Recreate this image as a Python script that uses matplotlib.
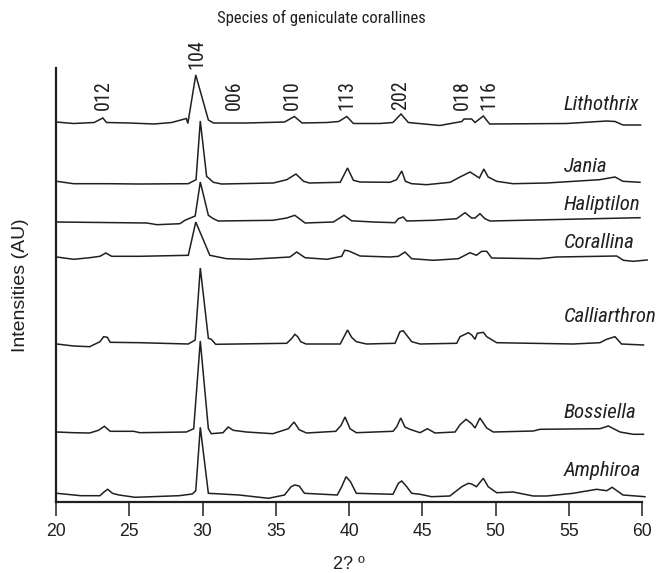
import matplotlib
matplotlib.use("Agg")
import matplotlib.pyplot as plt

# ---- data: 2-theta positions and intensities (AU, relative to each trace baseline)
litho_x = [20.0, 21.2, 22.6, 23.2, 23.45, 25.0, 26.7, 27.9, 28.9, 29.0, 29.54, 30.4, 30.75, 33.0, 35.6, 36.27, 36.8,
           38.5, 39.3, 39.85, 40.3, 42.1, 43.0, 43.55, 44.05, 46.2, 47.7, 47.85, 48.37, 48.6, 49.17, 49.6, 54.86,
           57.6, 58.16, 58.7, 59.9]
litho_y = [1, -0.5, 0.5, 5, 0.5, 0, -1, 0.5, 4.5, -0.5, 48, 3, 0, 0, 1, 6.5, 0,
           0.5, 1.5, 6.5, -0.5, -0.5, 0.5, 9, 0.5, -2.5, 1.5, 4, 4, 0.5, 7, -1, -0.5,
           2, 1.5, -2, -2]

jania_x = [20.05, 21.2, 23.5, 25.7, 29.03, 29.56, 29.85, 30.28, 30.74, 31.3, 34.83, 35.75, 36.38, 36.9, 37.3, 39.4,
           39.9, 40.3, 40.75, 42.8, 43.25, 43.6, 43.85, 44.28, 45.3, 46.9, 47.58, 48.26, 48.9, 49.2, 49.5, 50.08,
           51.2, 53.5, 57.1, 58.16, 58.7, 59.86]
jania_y = [1.7, -0.7, -0.7, -1, -0.7, 3.3, 62, 6.7, 0.7, -1, 0, 3.3, 9, 1.7, 0, 0.7,
           15, 2.7, 1, 0.7, 3.3, 12, 1.7, -0.7, -1.7, 0.7, 6, 11, 5, 14, 6, 1.7,
           -0.7, 0, 3.3, 6, 1.7, 0.7]

halip_x = [20.05, 26.2, 26.9, 28.46, 28.8, 29.5, 29.85, 30.4, 30.74, 31.08, 34.8, 35.75, 36.3, 37.0, 38.93, 39.66,
           40.18, 41.66, 43.14, 43.37, 43.7, 43.94, 45.75, 47.35, 47.92, 48.37, 48.6, 48.94, 49.28, 49.62, 59.86]
halip_y = [0, -1, -2.7, -1.7, 1.7, 6, 40, 6.7, 3.3, 1, 1.7, 4, 6.7, -1, 0, 6.7,
           1.2, 0, -0.7, 3.3, 5, 1, 1.7, 3.3, 9.3, 4, 4, 8.3, 3.3, 1, 4.3]

coral_x = [20.05, 21.2, 22.3, 23.0, 23.4, 23.8, 25.73, 29.03, 29.54, 30.5, 31.64, 33.24, 35.97, 36.43, 37.0, 38.5,
           39.5, 39.7, 39.95, 40.3, 40.75, 42.8, 43.37, 43.82, 44.28, 45.75, 47.46, 48.26, 48.7, 49.06, 49.4,
           49.74, 53.0, 54.17, 58.27, 58.73, 59.4, 60.35]
coral_y = [0, -2.3, -0.7, 0.7, 4, 0.7, 0.7, 1.7, 35, 1.7, -1.7, -2.3, 0, 5, -0.7, -2.3,
           0.7, 6.7, 6.2, 4, 1, 0, 0.7, 5, -1.7, -3.3, -1.7, 4.3, 1.7, 5.7, 5.7,
           -1, -1.7, 0, 1, -3.3, -4.3, -3]

calli_x = [20.05, 21.2, 22.3, 23.0, 23.25, 23.5, 23.7, 25.73, 29.03, 29.5, 29.85, 30.4, 30.6, 30.9, 35.75, 36.1,
           36.3, 36.5, 36.7, 37.07, 39.4, 39.66, 39.9, 40.18, 40.5, 41.2, 43.14, 43.48, 43.7, 44.28, 44.85,
           47.35, 47.58, 48.15, 48.38, 48.6, 48.76, 49.17, 49.4, 50.08, 55.3, 57.13, 57.58, 58.16, 58.6, 60.1]
calli_y = [0, -2, -2.7, 2.3, 7.3, 6.7, 1.7, 1.3, 0, 4, 76, 5.7, 4.7, -0.3, 0.7, 5.7,
           9.7, 7.3, 2.3, 0, 0, 7.3, 14, 6.7, 2.3, 0, 0.7, 12.3, 13.3, 2.3, 0,
           0.7, 7.3, 11.3, 9, 4.7, 10.7, 11.7, 7.3, 1.3, 0, 1.3, 4.7, 7.3, 0, -1]

bossi_x = [20.05, 21.2, 22.3, 22.9, 23.3, 23.7, 25.3, 25.73, 28.9, 29.4, 29.85, 30.4, 30.6, 31.4, 31.75, 32.1,
           33.0, 34.8, 35.86, 36.25, 36.6, 37.1, 39.1, 39.46, 39.73, 40.07, 40.5, 43.0, 43.25, 43.53, 43.82,
           44.16, 44.85, 45.35, 45.87, 47.24, 47.58, 47.99, 48.37, 48.6, 48.94, 49.4, 49.85, 52.58, 53.04,
           57.13, 57.7, 58.5, 59.4, 60.1]
bossi_y = [0, -0.7, -1, 1.7, 5.7, 0.7, 0.7, -0.7, 0, 3.3, 91, 3.3, -1.7, -0.7, 5, 1.7,
           0, -1.7, 3.3, 10, 2.3, -1, 0.7, 6.7, 15, 3.3, -0.7, 0.7, 5, 14, 5,
           2.7, -0.7, 3.3, -1, 0, 7.3, 12.7, 8.3, 4, 14, 4, 0, 1, 2.7,
           3.3, 6, 0, -2.3, -2.3]

amphi_x = [20.05, 21.7, 23.0, 23.3, 23.53, 23.85, 24.3, 25.4, 28.4, 29.3, 29.54, 29.85, 30.4, 32.5, 34.5, 35.6,
           36.05, 36.3, 36.6, 36.96, 39.2, 39.5, 39.8, 40.1, 40.5, 43.0, 43.37, 43.6, 43.94, 44.28, 44.85,
           45.64, 46.88, 47.7, 48.15, 48.37, 48.7, 49.17, 49.5, 50.08, 51.2, 52.58, 53.5, 55.3, 56.9, 57.6,
           57.96, 58.7, 60.2]
amphi_y = [1.7, -0.7, -0.7, 3.3, 5.7, 1.7, 0, -2.3, -0.7, 1, 4.3, 67.7, 1.7, 0, -3.3, 0,
           8.3, 10, 9, 1.7, 0, 8.3, 18.3, 13.3, 1.7, 0.7, 11.7, 14, 8.3, 1.7, 0.7,
           -1.7, -1, 8.3, 11.7, 11, 8.3, 16.7, 8.3, 2.3, 3, -1, -1, 1.7, 5.7, 4.3,
           7.7, 0, -1.7]

species = ["Lithothrix", "Jania", "Haliptilon", "Corallina", "Calliarthron", "Bossiella", "Amphiroa"]
baselines = [379, 319, 280, 245, 158, 70, 7]
label_heights = [397, 336, 297, 259, 185, 89, 31]

peak_labels = ["012", "104", "006", "010", "113", "202", "018", "116"]
peak_pos = [23.25, 29.6, 32.2, 36.14, 39.84, 43.5, 47.75, 49.56]
peak_label_y = [407, 448, 407, 407, 407, 407, 407, 407]

xticks = [20, 25, 30, 35, 40, 45, 50, 55, 60]

traces_x = [litho_x, jania_x, halip_x, coral_x, calli_x, bossi_x, amphi_x]
traces_y = [litho_y, jania_y, halip_y, coral_y, calli_y, bossi_y, amphi_y]

# ---- figure
W, H = 658, 573
fig = plt.figure(figsize=(W / 100, H / 100), dpi=100)
ax = fig.add_axes([56 / W, 71 / H, 586 / W, 434 / H])
ink = "#231f20"
narrow = ["Roboto Condensed", "Archivo Narrow", "Liberation Sans", "DejaVu Sans"]
reg = ["Liberation Sans", "DejaVu Sans"]

for xs, ys, b in zip(traces_x, traces_y, baselines):
    ax.plot(xs, [v + b for v in ys], color=ink, lw=1.1, clip_on=False, solid_joinstyle="miter")

for name, h in zip(species, label_heights):
    ax.text(54.65, h, name, family=narrow, style="italic", fontsize=15, color=ink,
            ha="left", va="center")

for lab, p, yy in zip(peak_labels, peak_pos, peak_label_y):
    ax.text(p, yy, lab, family=narrow, fontsize=14.5, color=ink, rotation=90,
            ha="center", va="center", clip_on=False)

ax.set_xlim(20, 60)
ax.set_ylim(0, 434)
ax.set_xticks(xticks)
ax.set_xticklabels([str(t) for t in xticks], family=reg, fontsize=12.7, color=ink)
ax.set_yticks([])
ax.spines["top"].set_visible(False)
ax.spines["right"].set_visible(False)
ax.spines["left"].set_linewidth(1.6)
ax.spines["bottom"].set_linewidth(1.6)
ax.spines["left"].set_color(ink)
ax.spines["bottom"].set_color(ink)
ax.tick_params(axis="x", direction="out", length=10, width=1.1, pad=5, colors=ink)

ax.set_xlabel("2? º", family=reg, fontsize=13, color=ink)
ax.xaxis.set_label_coords(0.5, -0.145)
ax.xaxis.label.set_va("center")
ax.set_ylabel("Intensities (AU)", family=reg, fontsize=14, color=ink)
ax.yaxis.set_label_coords(-0.061, 0.5)
ax.yaxis.label.set_va("center")

fig.text(321 / W, 1 - 18 / H, "Species of geniculate corallines", family=narrow, fontsize=12,
         color=ink, ha="center", va="center")

fig.savefig("out.png", dpi=100)
